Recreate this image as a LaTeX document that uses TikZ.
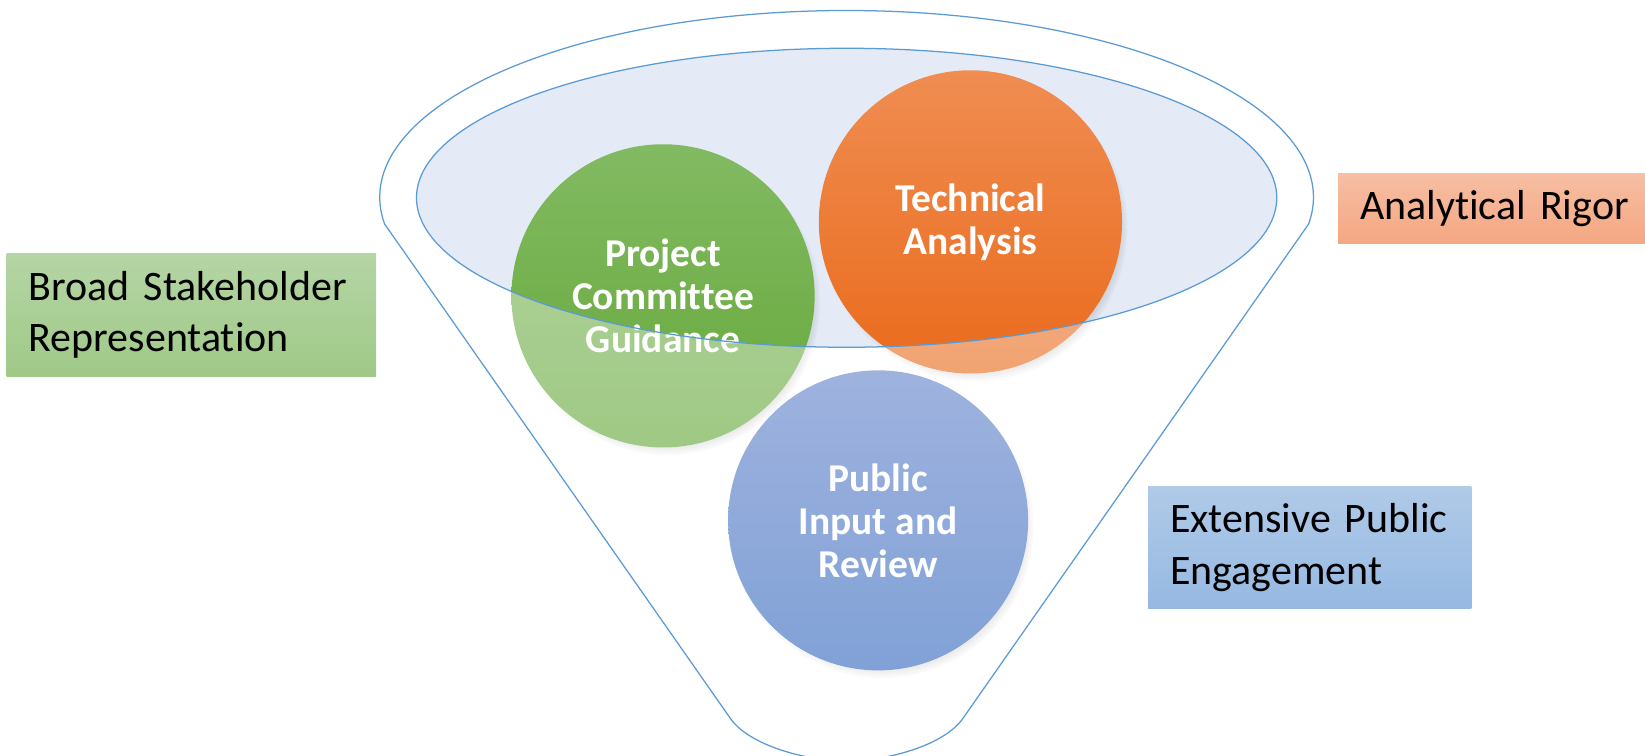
\documentclass[tikz,border=0pt]{standalone}
\usepackage{fontspec}
\setmainfont{Carlito}[Ligatures={NoCommon}]
\usetikzlibrary{shadows}
\definecolor{funnelline}{RGB}{91,155,213}
\definecolor{ellfill}{RGB}{228,235,247}
\definecolor{gtop}{RGB}{130,186,98}
\definecolor{gbot}{RGB}{102,168,58}
\definecolor{otop}{RGB}{240,141,82}
\definecolor{obot}{RGB}{234,107,28}
\definecolor{btop}{RGB}{100,132,203}
\definecolor{bbot}{RGB}{52,104,190}
\definecolor{lgtop}{RGB}{181,213,165}
\definecolor{lgbot}{RGB}{160,201,136}
\definecolor{lotop}{RGB}{247,190,163}
\definecolor{lobot}{RGB}{244,167,130}
\definecolor{lbtop}{RGB}{176,202,232}
\definecolor{lbbot}{RGB}{150,185,226}
\begin{document}
\begin{tikzpicture}[x=0.5pt,y=0.5pt,
  bubble/.style={circle, inner sep=0pt, text=white,
    font=\fontsize{18.8}{20.5}\selectfont\bfseries, align=center,
    circular drop shadow={shadow xshift=2pt, shadow yshift=-3pt, opacity=0.6, shadow scale=1.01}},
  tag/.style={rectangle, inner xsep=10.5pt, inner ysep=0pt, align=left,
    font=\fontsize{20}{24.5}\selectfont, text=black, anchor=north west},
  funnel/.style={draw=funnelline, line width=0.6pt}]
\useasboundingbox (0,0) rectangle (1568,720);

% inner ellipse fill
\fill[ellfill] (807,531.5) ellipse [x radius=410, y radius=142.5];

% circles
\node[bubble, minimum size=144.5pt, top color=gtop, bottom color=gbot] (pcg) at (632,438) {Project\\Committee\\Guidance};
\node[bubble, minimum size=144.5pt, top color=otop, bottom color=obot] (ta) at (925,508.5) {Technical\\Analysis};
\node[bubble, minimum size=143pt, top color=btop, bottom color=bbot] (pir) at (837,224) {Public\\Input and\\Review};

% white veil outside the inner ellipse
\fill[white, fill opacity=0.38, even odd rule] (0,0) rectangle (1568,720)
  (807,531.5) ellipse [x radius=410, y radius=142.5];

% funnel outlines
\draw[funnel] (807,531.5) ellipse [x radius=410, y radius=142.5];
\draw[funnel] (366.6,506.5) arc[start angle=188.24, end angle=-8.24, x radius=445, y radius=178]
  -- (918,35.5) .. controls (902,12) and (854,-4) .. (807,-6)
  .. controls (760,-4) and (712,12) .. (696,35.5) -- cycle;

% labels
\node[tag, text width=155pt, minimum height=58.5pt, top color=lgtop, bottom color=lgbot] (bsr) at (6,479) {Broad Stakeholder\\Representation};
\node[tag, text width=150pt, minimum height=33.5pt, top color=lotop, bottom color=lobot] (ar) at (1275,555) {Analytical Rigor};
\node[tag, text width=133pt, minimum height=58.5pt, top color=lbtop, bottom color=lbbot] (epe) at (1094,257) {Extensive Public\\Engagement};
\end{tikzpicture}
\end{document}
